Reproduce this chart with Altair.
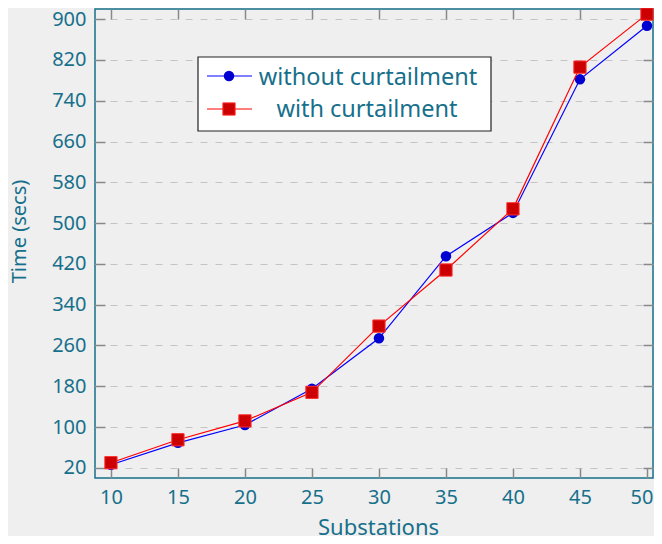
import altair as alt
import pandas as pd

substations = [10, 15, 20, 25, 30, 35, 40, 45, 50]
without_curtailment = [26, 69, 104, 175, 274, 435, 520, 782, 887]
with_curtailment = [30, 75, 112, 168, 298, 408, 528, 806, 910]
series_names = ["without curtailment", "with curtailment"]
y_ticks = [20, 100, 180, 260, 340, 420, 500, 580, 660, 740, 820, 900]
x_ticks = [10, 15, 20, 25, 30, 35, 40, 45, 50]

TEAL = "#17708b"
FONT = "Noto Sans"
FS = 20

df_blue = pd.DataFrame({"x": substations, "y": without_curtailment, "s": series_names[0]})
df_red = pd.DataFrame({"x": substations, "y": with_curtailment, "s": series_names[1]})

xs = alt.Scale(domain=[8.81, 50.45], nice=False, zero=False)
ys = alt.Scale(domain=[0, 920], nice=False, zero=False)

main_x_axis = alt.Axis(values=x_ticks, title="Substations", labelFont=FONT, labelFontSize=FS,
                       labelColor=TEAL, titleFont=FONT, titleFontSize=22, titleColor=TEAL,
                       titleFontWeight="normal", ticks=False, domain=False, grid=False,
                       labelPadding=9, titleX=283, titleY=56, titleBaseline="alphabetic",
                       titleAnchor="middle", titleAlign="center",
                       labelFlush=8, labelFlushOffset=6)
main_y_axis = alt.Axis(values=y_ticks, title="Time (secs)", labelFont=FONT, labelFontSize=FS,
                       labelColor=TEAL, titleFont=FONT, titleFontSize=FS, titleColor=TEAL,
                       titleFontWeight="normal", ticks=False, domain=False, grid=True,
                       gridColor="#c4c4c4", gridDash=[7, 8], gridWidth=1,
                       labelPadding=9, titleX=-76, titleY=222, titleBaseline="middle",
                       titleAlign="center", titleAngle=-90, labelFlush=False)

blue_line = alt.Chart(df_blue).mark_line(color="#0000ff", strokeWidth=1.2).encode(
    x=alt.X("x:Q", scale=xs, axis=main_x_axis),
    y=alt.Y("y:Q", scale=ys, axis=main_y_axis),
)
blue_pts = alt.Chart(df_blue).mark_point(shape="circle", filled=True, color="#0000d0",
                                         size=110, opacity=1).encode(
    x=alt.X("x:Q", scale=xs, axis=None), y=alt.Y("y:Q", scale=ys, axis=None))
red_line = alt.Chart(df_red).mark_line(color="#ff0000", strokeWidth=1.2).encode(
    x=alt.X("x:Q", scale=xs, axis=None), y=alt.Y("y:Q", scale=ys, axis=None))
red_pts = alt.Chart(df_red).mark_point(shape="square", filled=True, fill="#cc0000",
                                       stroke="#ff3030", strokeWidth=1, size=150, opacity=1).encode(
    x=alt.X("x:Q", scale=xs, axis=None), y=alt.Y("y:Q", scale=ys, axis=None))

def tick_axis(orient, values):
    return alt.Axis(orient=orient, values=values, labels=False, domain=False, grid=False,
                    ticks=True, tickSize=10, tickColor="#888888", tickWidth=1.5,
                    offset=-10, title=None)

ticks_a = alt.Chart(df_blue).mark_point(opacity=0).encode(
    x=alt.X("x:Q", scale=xs, axis=tick_axis("bottom", x_ticks)),
    y=alt.Y("y:Q", scale=ys, axis=tick_axis("left", y_ticks)))
ticks_b = alt.Chart(df_blue).mark_point(opacity=0).encode(
    x=alt.X("x:Q", scale=xs, axis=tick_axis("top", x_ticks)),
    y=alt.Y("y:Q", scale=ys, axis=tick_axis("right", y_ticks)))

# legend
LFS = 23.5
leg_df = pd.DataFrame({"s": series_names})
box = alt.Chart(leg_df.head(1)).mark_rect(fill="white", stroke="#222222", strokeWidth=1.2).encode(
    x=alt.value(103), x2=alt.value(396), y=alt.value(48), y2=alt.value(122))
leg_line1 = alt.Chart(leg_df.head(1)).mark_rule(color="#0000ff", strokeWidth=1.2).encode(
    x=alt.value(112), x2=alt.value(157), y=alt.value(67))
leg_pt1 = alt.Chart(leg_df.head(1)).mark_point(shape="circle", filled=True, color="#0000d0",
                                               size=110, opacity=1).encode(
    x=alt.value(134), y=alt.value(67))
leg_txt1 = alt.Chart(leg_df.head(1)).mark_text(font=FONT, fontSize=LFS, color=TEAL,
                                               align="center", baseline="alphabetic").encode(
    x=alt.value(273), y=alt.value(76), text="s:N")
leg_line2 = alt.Chart(leg_df.tail(1)).mark_rule(color="#ff0000", strokeWidth=1.2).encode(
    x=alt.value(112), x2=alt.value(157), y=alt.value(100))
leg_pt2 = alt.Chart(leg_df.tail(1)).mark_point(shape="square", filled=True, fill="#cc0000",
                                               stroke="#ff3030", strokeWidth=1, size=150,
                                               opacity=1).encode(
    x=alt.value(134), y=alt.value(100))
leg_txt2 = alt.Chart(leg_df.tail(1)).mark_text(font=FONT, fontSize=LFS, color=TEAL,
                                               align="center", baseline="alphabetic").encode(
    x=alt.value(272), y=alt.value(108), text="s:N")

chart = alt.layer(
    blue_line, ticks_a, ticks_b, blue_pts, red_line, red_pts,
    box, leg_line1, leg_pt1, leg_txt1, leg_line2, leg_pt2, leg_txt2,
).resolve_axis(x="independent", y="independent").properties(
    width=558, height=469, background="#efefef",
    padding={"left": 87, "top": 1, "right": 1, "bottom": 58},
    autosize=alt.AutoSizeParams(type="none"),
).configure_view(stroke=TEAL, strokeWidth=1.5)

chart.save("out.html", embed_options={"renderer": "svg", "actions": False})
